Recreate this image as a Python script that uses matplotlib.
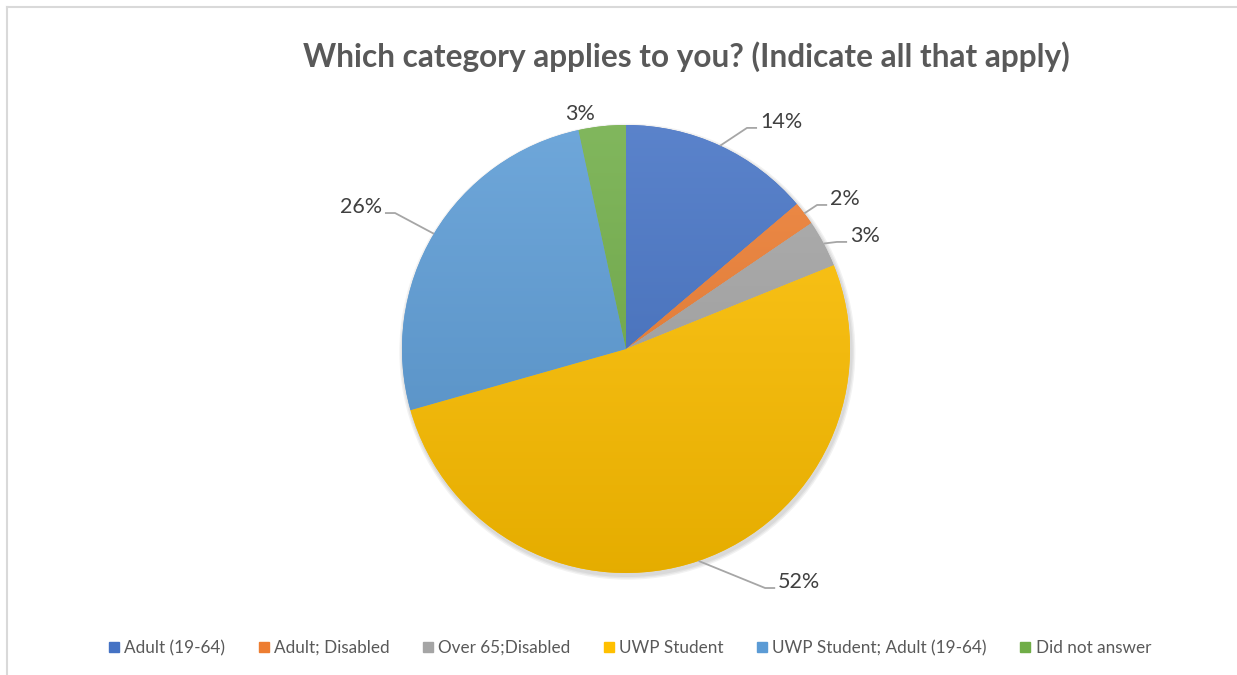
import numpy as np
import matplotlib
matplotlib.use("Agg")
import matplotlib.pyplot as plt
from matplotlib.colors import to_rgb
from matplotlib.lines import Line2D
from matplotlib.patches import Circle

plt.rcParams['font.family'] = ['Lato', 'DejaVu Sans']

categories = ['Adult (19-64)', 'Adult; Disabled', 'Over 65;Disabled',
              'UWP Student', 'UWP Student; Adult (19-64)', 'Did not answer']
values = [13.8, 1.7, 3.4, 51.7, 26.0, 3.4]
colors = ['#4472C4', '#ED7D31', '#A5A5A5', '#FFC000', '#5B9BD5', '#70AD47']
title = 'Which category applies to you? (Indicate all that apply)'

# label anchor (data units, pie radius = 1), alignment, leader line or not
label_pos = [(0.598, 0.987), (0.911, 0.643), (1.0, 0.478),
             (0.679, -1.067), (-1.089, 0.607), (-0.205, 1.022)]
label_ha = ['left', 'left', 'left', 'left', 'right', 'center']
label_leader = [True, True, True, True, True, False]

W, H = 1237, 675
fig = plt.figure(figsize=(W / 100, H / 100), dpi=100)
cx, cy, R = 626, 349, 224
ax = fig.add_axes([(cx - 2 * R) / W, (H - cy - 1.4 * R) / H, 4 * R / W, 2.8 * R / H])

# soft shadow under the pie
for k, a in enumerate([0.05, 0.05, 0.05]):
    ax.add_patch(Circle((0.006, -0.012), 1.0 + 0.006 * (k + 1), color='black',
                        alpha=a, lw=0, zorder=0))

wedges, _ = ax.pie(values, colors=colors, startangle=90, counterclock=False,
                   radius=1.0, wedgeprops=dict(linewidth=0))

# vertical gradient like the Office style
yy = np.linspace(1, 0, 256)[:, None]
for w, c in zip(wedges, colors):
    base = np.array(to_rgb(c))
    top = base + (1 - base) * 0.12
    bot = base * 0.9
    img = top[None, None, :] * yy[:, :, None] + bot[None, None, :] * (1 - yy[:, :, None])
    img = np.repeat(img, 2, axis=1)
    im = ax.imshow(img, extent=[-1, 1, -1, 1], zorder=w.get_zorder() + 0.1,
                   aspect='auto', interpolation='bilinear')
    im.set_clip_path(w)

ax.set_xlim(-2, 2)
ax.set_ylim(-1.4, 1.4)
ax.set_aspect('equal')
ax.axis('off')

total = sum(values)
start = 90.0
for v, (tx, ty), ha, lead in zip(values, label_pos, label_ha, label_leader):
    mid = np.deg2rad(start - v / total * 360 / 2)
    start -= v / total * 360
    txt = f'{v / total * 100:.0f}%'
    if lead:
        s = 1 if ha == 'left' else -1
        ex, ey = np.cos(mid), np.sin(mid)
        ax.plot([ex, tx - s * 0.058, tx - s * 0.013], [ey, ty, ty],
                color='#A6A6A6', lw=1.3, zorder=5, solid_capstyle='butt')
    ax.text(tx, ty, txt, ha=ha, va='baseline', fontsize=15.5, color='#404040', zorder=6)

fig.text(686 / W, 1 - 57 / H, title, ha='center', va='center',
         fontsize=22.8, fontweight='bold', color='#595959')

handles = [Line2D([], [], marker='s', ls='', markersize=7, color=c) for c in colors]
fig.legend(handles, categories, loc='center', bbox_to_anchor=(630 / W, 1 - 648 / H),
           ncol=6, frameon=False, fontsize=12.3, labelcolor='#595959',
           handlelength=0.6, handletextpad=0.3, columnspacing=1.95)

# chart border (top and left visible)
fig.add_artist(Line2D([6.5 / W, 1], [1 - 6.5 / H, 1 - 6.5 / H], color='#D9D9D9', lw=1.5))
fig.add_artist(Line2D([6.5 / W, 6.5 / W], [0, 1 - 6.5 / H], color='#D9D9D9', lw=1.5))

fig.savefig('out.png', dpi=100, facecolor='white')
